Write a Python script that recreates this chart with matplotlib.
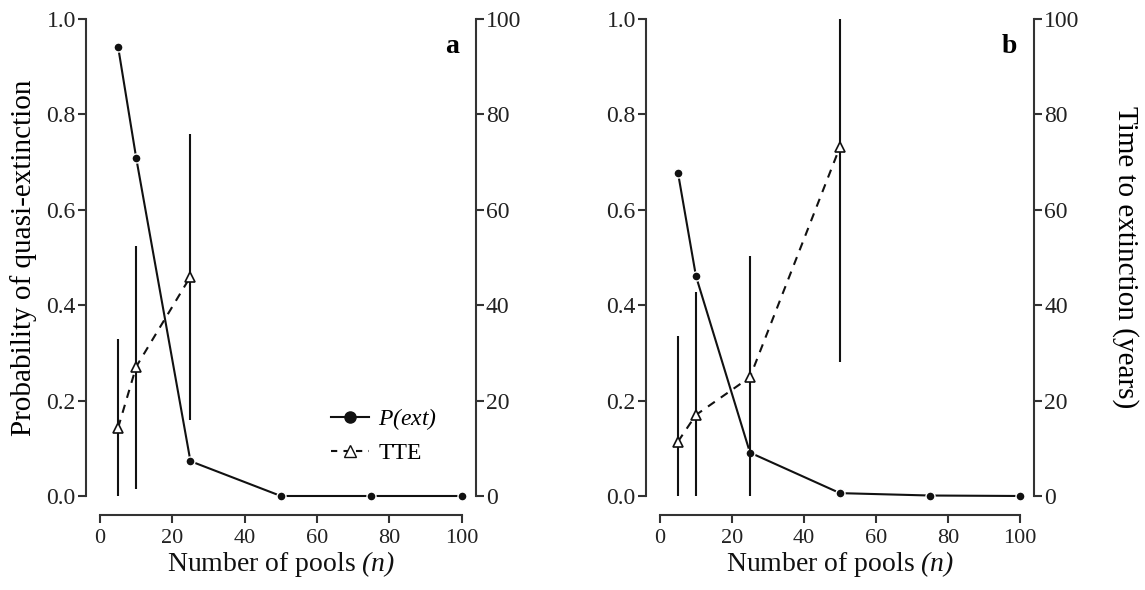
import matplotlib
matplotlib.use("Agg")
import matplotlib.pyplot as plt
from matplotlib.lines import Line2D

plt.rcParams['font.family'] = ['Liberation Serif', 'DejaVu Serif']
plt.rcParams['mathtext.fontset'] = 'custom'
# every math piece in this figure is italic, parentheses included
plt.rcParams['mathtext.rm'] = 'Liberation Serif:italic'
plt.rcParams['mathtext.it'] = 'Liberation Serif:italic'

# data
pools = [5, 10, 25, 50, 75, 100]

pext_a = [0.942, 0.709, 0.073, 0.0, 0.0, 0.0]
tte_x_a = [5, 10, 25]
tte_a = [14.3, 27.1, 46.0]
tte_lo_a = [0.0, 1.4, 15.9]
tte_hi_a = [32.9, 52.5, 75.9]

pext_b = [0.678, 0.461, 0.091, 0.006, 0.001, 0.0]
tte_x_b = [5, 10, 25, 50]
tte_b = [11.4, 17.0, 24.9, 73.2]
tte_lo_b = [0.0, 0.0, 0.0, 28.2]
tte_hi_b = [33.5, 42.8, 50.3, 100.0]

xticks = [0, 20, 40, 60, 80, 100]
yticks_p = [0.0, 0.2, 0.4, 0.6, 0.8, 1.0]
yticks_t = [0, 20, 40, 60, 80, 100]

col = '#111111'

fig = plt.figure(figsize=(11.45, 5.9), dpi=100)


def panel(rect, pext, tx, tte, lo, hi, letter):
    ax = fig.add_axes(rect)
    ax2 = ax.twinx()
    ax.set_xlim(-4, 104)
    ax.set_ylim(-0.04, 1.04)
    ax2.set_ylim(-4, 104)

    ax.plot(pools, pext, '-', color=col, lw=1.5, marker='o', ms=6.5,
            mfc=col, mec='white', mew=1.0, zorder=3)
    ax2.vlines(tx, lo, hi, color=col, lw=1.5)
    ax2.plot(tx, tte, '--', color=col, lw=1.5, marker='^', ms=7.5,
             mfc='white', mec=col, mew=1.2, dashes=(4, 3.5))

    for a in (ax, ax2):
        a.spines['top'].set_visible(False)
        a.spines['bottom'].set_visible(a is ax)
        for s in a.spines.values():
            s.set_linewidth(1.5)
            s.set_color('#333333')
        a.tick_params(direction='out', length=6, width=1.5, colors='#333333',
                      labelsize=17, labelcolor='#222222', pad=1)
    ax.spines['right'].set_visible(False)
    ax2.spines['left'].set_visible(False)
    ax.spines['left'].set_bounds(0, 1)
    ax2.spines['right'].set_bounds(0, 100)
    ax.spines['bottom'].set_bounds(0, 100)
    ax.set_xticks(xticks)
    ax.set_yticks(yticks_p)
    ax.set_yticklabels(['%.1f' % v for v in yticks_p])
    ax2.set_yticks(yticks_t)
    ax.tick_params(axis='x', pad=4, labelsize=16)
    ax.set_xlabel(r'Number of pools$\ \mathrm{(n)}$', fontsize=20,
                  labelpad=1, color='#111111')
    ax.text(0.955, 0.91, letter, transform=ax.transAxes, fontsize=20,
            fontweight='bold', ha='right', va='center')
    return ax, ax2


axa, axa2 = panel([0.0747, 0.127, 0.3412, 0.873], pext_a, tte_x_a, tte_a,
                  tte_lo_a, tte_hi_a, 'a')
axb, axb2 = panel([0.5638, 0.127, 0.3396, 0.873], pext_b, tte_x_b, tte_b,
                  tte_lo_b, tte_hi_b, 'b')

axa.set_ylabel('Probability of quasi-extinction', fontsize=21, labelpad=7)
axb2.set_ylabel('Time to extinction (years)', fontsize=21, rotation=-90,
                labelpad=43)

handles = [
    Line2D([], [], color=col, lw=1.5, marker='o', ms=8, mfc=col, mec=col),
    Line2D([], [], color=col, lw=1.5, ls='--', marker='^', ms=8.5,
           mfc='white', mec=col, dashes=(3, 3)),
]
axa.legend(handles, [r'$\mathrm{P(ext)}$', 'TTE'], loc='center left',
           bbox_to_anchor=(310 / 1145, 1 - 435 / 590),
           bbox_transform=fig.transFigure, frameon=False, fontsize=17,
           handlelength=1.6, handletextpad=0.4, labelspacing=0.45)

fig.savefig('out.png', dpi=100)
